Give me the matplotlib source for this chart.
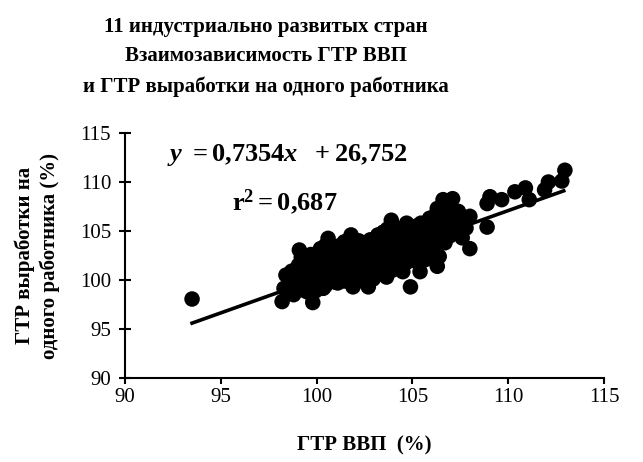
import matplotlib
matplotlib.use('Agg')
import matplotlib.pyplot as plt
import numpy as np

plt.rcParams['font.family'] = ['Liberation Serif', 'DejaVu Serif']
plt.rcParams['mathtext.fontset'] = 'custom'
plt.rcParams['mathtext.rm'] = 'Liberation Serif:bold'
plt.rcParams['mathtext.bf'] = 'Liberation Serif:bold'
plt.rcParams['mathtext.it'] = 'Liberation Serif:italic:bold'

# GDP growth rate (%) vs productivity growth rate (%)
# outline of the cloud
gdp = [93.5, 98.2, 98.3, 98.4, 98.8, 99.1, 99.05, 99.5, 99.8, 100.35, 100.2,
       100.6, 101.1, 101.1, 101.8, 101.9, 102.7, 102.8, 103.5, 103.65, 103.9,
       104.5, 104.7, 104.9, 105.4, 105.9, 106.3, 106.3, 106.4, 106.6, 107.1,
       107.1, 107.4, 108.0, 108.0, 108.9, 108.9, 109.05, 109.66, 110.35, 110.9,
       111.1, 111.9, 112.1, 112.8, 112.96]
prod = [98.06, 97.8, 99.15, 100.5, 98.5, 103.06, 101.5, 98.8, 97.7, 99.15, 103.2,
        104.25, 102.7, 99.7, 104.6, 99.3, 99.3, 104.1, 104.9, 100.3, 106.1,
        100.85, 105.8, 99.3, 100.85, 106.3, 107.3, 101.4, 102.4, 108.2, 108.3,
        104.8, 107.0, 106.5, 103.2, 107.8, 105.4, 108.5, 108.2, 109.0, 109.4,
        108.2, 109.2, 110.0, 110.1, 111.2]

# points inside the dense part of the cloud
gdp_core = [98.7, 98.7, 99.2, 99.2, 99.2, 99.2, 99.7, 99.7, 99.7, 99.7, 99.7,
            100.2, 100.2, 100.2, 100.2, 100.7, 100.7, 100.7, 100.7,
            101.2, 101.2, 101.2, 101.2, 101.7, 101.7, 101.7, 101.7,
            102.2, 102.2, 102.2, 102.2, 102.2, 102.7, 102.7, 102.7, 102.7,
            103.2, 103.2, 103.2, 103.2, 103.2, 103.7, 103.7, 103.7, 103.7, 103.7,
            104.2, 104.2, 104.2, 104.2, 104.2, 104.7, 104.7, 104.7, 104.7,
            105.2, 105.2, 105.2, 105.2, 105.2, 105.7, 105.7, 105.7, 105.7,
            106.2, 106.2, 106.2, 106.2, 106.7, 106.7, 106.7, 106.7,
            107.3, 107.3, 107.8,
            98.9, 98.9, 99.45, 99.45, 99.45, 99.45, 99.95, 99.95, 99.95, 99.95,
            100.45, 100.45, 100.45, 100.45, 100.45, 100.95, 100.95, 100.95, 100.95,
            101.45, 101.45, 101.45, 101.45, 101.45, 101.95, 101.95, 101.95, 101.95, 101.95,
            102.45, 102.45, 102.45, 102.45, 102.95, 102.95, 102.95, 102.95, 102.95,
            103.45, 103.45, 103.45, 103.45, 103.45, 103.95, 103.95, 103.95, 103.95, 103.95,
            104.45, 104.45, 104.45, 104.45, 104.45, 104.95, 104.95, 104.95, 104.95,
            105.45, 105.45, 105.45, 105.45, 105.95, 105.95, 105.95, 105.95,
            106.45, 106.45, 106.45, 106.95, 106.95, 106.95, 107.6, 107.6]
prod_core = [99.8, 100.9, 99.0, 100.2, 101.4, 102.3, 98.6, 99.6, 100.7, 101.8, 102.6,
             99.8, 100.9, 101.9, 102.8, 100.0, 101.0, 102.1, 103.2,
             100.3, 101.3, 102.2, 103.5, 100.1, 101.1, 102.4, 103.6,
             100.0, 101.0, 102.0, 103.0, 104.0, 100.4, 101.5, 102.5, 103.3,
             100.6, 101.6, 102.7, 103.8, 104.6, 101.3, 102.3, 103.2, 104.2, 105.2,
             101.5, 102.6, 103.6, 104.6, 105.3, 101.8, 102.9, 103.9, 104.9,
             101.9, 102.8, 103.8, 104.7, 105.5, 102.1, 103.2, 104.3, 105.3,
             103.5, 104.6, 105.6, 106.6, 103.8, 105.0, 106.2, 107.2,
             105.6, 106.0, 105.3,
             99.4, 100.4, 99.2, 100.3, 101.2, 102.0, 98.9, 100.1, 101.3, 102.2,
             99.4, 100.5, 101.5, 102.5, 103.5, 99.8, 100.8, 101.7, 102.7,
             99.9, 100.7, 101.8, 102.9, 103.9, 99.6, 100.6, 101.6, 102.6, 103.4,
             100.2, 101.2, 102.3, 103.5, 100.1, 101.0, 102.0, 103.0, 104.1,
             100.9, 102.0, 103.0, 104.0, 104.8, 101.0, 102.0, 102.9, 103.9, 104.9,
             101.2, 102.2, 103.2, 104.2, 105.0, 102.3, 103.3, 104.4, 105.2,
             102.3, 103.4, 104.4, 105.8, 102.6, 103.9, 104.8, 105.9,
             104.0, 105.2, 106.3, 104.5, 105.6, 106.8, 104.3, 105.9]

# trend line as drawn in the picture
trend_x = [93.5, 112.9]
trend_y = [95.6, 109.1]

x_ticks = [90, 95, 100, 105, 110, 115]
y_ticks = [90, 95, 100, 105, 110, 115]

fig = plt.figure(figsize=(6.43, 4.62), dpi=100)
ax = fig.add_axes([0.1944, 0.1818, 0.7449, 0.5303])

ax.scatter(gdp + gdp_core, prod + prod_core, s=125, c='black',
           edgecolors='none', zorder=3)
ax.plot(trend_x, trend_y, color='black', lw=2.6, zorder=2)

ax.set_xlim(90, 115)
ax.set_ylim(90, 115)
ax.set_xticks(x_ticks)
ax.set_yticks(y_ticks)
ax.tick_params(axis='x', direction='out', length=4, width=1.5, labelsize=15, pad=3)
ax.tick_params(axis='y', direction='inout', length=8, width=1.5, labelsize=15, pad=6)
ax.spines['right'].set_visible(False)
ax.spines['top'].set_visible(False)
ax.spines['left'].set_linewidth(1.5)
ax.spines['bottom'].set_linewidth(1.5)

ax.set_xlabel('ГТР ВВП  (%)', fontsize=15, fontweight='bold', labelpad=21)
ax.set_ylabel('ГТР выработки на\nодного работника (%)', fontsize=15,
              fontweight='bold', labelpad=14, linespacing=1.3)

ax.text(0.087, 0.91, r'$y\ =0{,}7354x\ \ +26{,}752$', transform=ax.transAxes,
        fontsize=19, va='center', ha='left')
ax.text(0.223, 0.72, r'$\mathrm{r}^2 = 0{,}687$', transform=ax.transAxes,
        fontsize=19, va='center', ha='left')

fig.text(0.414, 0.877,
         '11 индустриально развитых стран\nВзаимозависимость ГТР ВВП\n'
         'и ГТР выработки на одного работника',
         ha='center', va='center', fontsize=15, fontweight='bold', linespacing=1.65)

fig.savefig('out.png', dpi=100)
